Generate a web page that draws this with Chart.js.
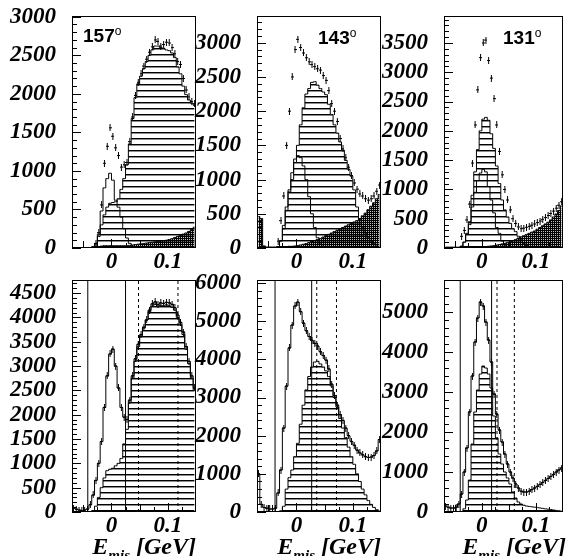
<!DOCTYPE html>
<html>
<head>
<meta charset="utf-8">
<script src="https://cdn.jsdelivr.net/npm/chart.js@4/dist/chart.umd.min.js"></script>
<style>
body { margin: 0; background: #fff; width: 568px; height: 556px; position: relative; overflow: hidden; }
canvas { position: absolute; }
.ang { position: absolute; font: bold 19px "Liberation Sans", Arial, sans-serif; line-height: 19px; color: #000; white-space: nowrap; }
.ang sup { font-weight: normal; font-size: 12px; vertical-align: 7px; }
.xt { position: absolute; font: italic bold 24px "Liberation Serif", "Times New Roman", serif; line-height: 24px; color: #000; white-space: nowrap; text-align: right; }
.xt sub { font-size: 15px; vertical-align: -6px; }
</style>
</head>
<body>
<script>
// Missing-energy bins (GeV), bin width 0.005
const binCenters = [-0.0675, -0.0625, -0.0575, -0.0525, -0.0475, -0.0425, -0.0375, -0.0325, -0.0275, -0.0225,
    -0.0175, -0.0125, -0.0075, -0.0025, 0.0025, 0.0075, 0.0125, 0.0175, 0.0225, 0.0275,
    0.0325, 0.0375, 0.0425, 0.0475, 0.0525, 0.0575, 0.0625, 0.0675, 0.0725, 0.0775,
    0.0825, 0.0875, 0.0925, 0.0975, 0.1025, 0.1075, 0.1125, 0.1175, 0.1225, 0.1275,
    0.1325, 0.1375, 0.1425, 0.1475];
const xTicks = [0, 0.1];
const angleLabels = ['157', '143', '131'];

// Top row, 157 deg
const top1Hatch = [0, 0, 0, 0, 0, 0, 0, 10, 40, 150, 300, 430, 530, 580, 590, 600, 640, 760, 900, 1080,
    1350, 1680, 1950, 2130, 2230, 2330, 2420, 2500, 2570, 2620, 2620, 2600, 2590, 2570, 2560, 2530, 2470, 2350, 2260, 2100,
    1990, 1920, 1880, 1850];
const top1Peak = [0, 0, 0, 0, 0, 0, 0, 20, 60, 180, 480, 780, 900, 970, 880, 620, 530, 400, 250, 130,
    60, 20, 0, 0, 0, 0, 0, 0, 0, 0, 0, 0, 0, 0, 0, 0, 0, 0, 0, 0, 0, 0, 0, 0];
const top1Data = [null, null, null, null, null, null, null, null, 60, 200, 560, 1100, 1320, 1560, 1450, 1300, 1200, 1050, 1080, 1110,
    1380, 1700, 1980, 2150, 2260, 2360, 2450, 2540, 2610, 2700, 2680, 2620, 2640, 2670, 2660, 2600, 2520, 2420, 2380, 2200,
    2050, 1960, 1900, 1870];
const top1Bg = [0, 0, 0, 0, 0, 0, 0, 0, 10, 20, 25, 30, 30, 30, 30, 30, 30, 30, 30, 30,
    35, 40, 45, 50, 55, 60, 65, 70, 75, 80, 85, 90, 95, 100, 110, 120, 135, 150, 165, 180,
    195, 215, 240, 270];
const top1YTicks = [0, 500, 1000, 1500, 2000, 2500, 3000];

// Top row, 143 deg
const top2Hatch = [0, 0, 0, 0, 0, 0, 0, 20, 110, 330, 600, 820, 1000, 1250, 1500, 1800, 2050, 2250, 2330, 2420,
    2430, 2380, 2330, 2280, 2240, 2100, 1950, 1800, 1680, 1550, 1430, 1280, 1150, 1050, 850, 600, 420, 300, 220, 150,
    100, 60, 30, 10];
const top2Peak = [0, 0, 0, 0, 0, 0, 0, 20, 100, 280, 550, 850, 1100, 1300, 1350, 1320, 1200, 1000, 750, 500,
    300, 150, 60, 20, 0, 0, 0, 0, 0, 0, 0, 0, 0, 0, 0, 0, 0, 0, 0, 0, 0, 0, 0, 0];
const top2Data = [null, null, null, null, null, null, null, 100, 400, 760, 1500, 2000, 2500, 2900, 3050, 2930, 2850, 2780, 2720, 2680,
    2650, 2620, 2600, 2520, 2450, 2300, 2110, 2000, 1850, 1600, 1450, 1320, 1180, 1060, 950, 860, 790, 760, 720, 700,
    720, 760, 830, 920];
const top2Bg = [460, 430, 30, 15, 15, 15, 15, 15, 20, 20, 20, 25, 25, 30, 35, 45, 55, 65, 80, 95,
    110, 125, 140, 160, 180, 200, 220, 240, 260, 280, 300, 320, 340, 360, 380, 400, 430, 470, 510, 560,
    610, 660, 720, 780];
const top2YTicks = [0, 500, 1000, 1500, 2000, 2500, 3000];

// Top row, 131 deg
const top3Hatch = [0, 0, 0, 0, 0, 0, 30, 100, 250, 450, 900, 1300, 1680, 2000, 2200, 2230, 2180, 1950, 1700, 1400,
    1100, 820, 650, 530, 420, 330, 280, 200, 140, 80, 40, 20, 0, 0, 0, 0, 0, 0, 0, 0, 0, 0, 0, 0];
const top3Peak = [0, 0, 0, 0, 0, 0, 30, 100, 230, 400, 700, 950, 1150, 1280, 1340, 1300, 1050, 820, 600, 350,
    250, 120, 50, 20, 0, 0, 0, 0, 0, 0, 0, 0, 0, 0, 0, 0, 0, 0, 0, 0, 0, 0, 0, 0];
const top3Data = [null, null, null, null, null, null, 200, 300, 480, 750, 1450, 2100, 2700, 3250, 3500, 3550, 3200, 2900, 2550, 2100,
    1650, 1250, 1000, 820, 650, 500, 420, 360, 330, 340, 355, 370, 390, 410, 435, 460, 490, 520, 555, 590,
    630, 680, 730, 790];
const top3Bg = [15, 15, 15, 15, 15, 15, 15, 15, 15, 15, 15, 15, 15, 20, 20, 25, 30, 35, 40, 50,
    60, 70, 80, 95, 110, 125, 145, 170, 190, 210, 230, 250, 270, 290, 320, 350, 380, 410, 440, 480,
    530, 580, 640, 720];
const top3YTicks = [0, 500, 1000, 1500, 2000, 2500, 3000, 3500];

// Bottom row, 157 deg
const bot1Data = [80, 60, 40, 30, 40, 60, 150, 350, 650, 1000, 1450, 2150, 2800, 3250, 3350, 3000, 2550, 2150, 1950, 1900,
    2300, 2800, 3150, 3450, 3650, 3800, 3950, 4150, 4280, 4320, 4260, 4300, 4290, 4310, 4300, 4270, 4200, 4050, 3900, 3700,
    3400, 3100, 2800, 2550];
const bot1Hatch = [0, 0, 0, 0, 0, 0, 0, 30, 120, 300, 500, 700, 850, 880, 900, 950, 1000, 1100, 1400, 1700,
    2250, 2750, 3100, 3400, 3620, 3780, 3950, 4120, 4230, 4270, 4220, 4250, 4240, 4260, 4240, 4210, 4150, 4000, 3850, 3650,
    3350, 3050, 2750, 2500];
const bot1Solid = [-0.042, 0.025];
const bot1Dashed = [0.048, 0.118];
const bot1YTicks = [0, 500, 1000, 1500, 2000, 2500, 3000, 3500, 4000, 4500];

// Bottom row, 143 deg
const bot2Data = [1000, 200, 120, 100, 80, 80, 100, 500, 1100, 2200, 3300, 4300, 4900, 5400, 5500, 5250, 4950, 4750, 4600, 4500,
    4420, 4350, 4200, 4100, 3980, 3750, 3350, 3050, 2800, 2550, 2400, 2200, 2000, 1850, 1750, 1620, 1550, 1500, 1450, 1430,
    1440, 1480, 1600, 1900];
const bot2Hatch = [0, 0, 0, 0, 0, 0, 0, 0, 30, 150, 600, 900, 1100, 1450, 1800, 2300, 2800, 3200, 3550, 3800,
    3930, 3950, 3880, 3800, 3700, 3550, 3300, 3000, 2750, 2450, 2200, 1950, 1700, 1450, 1250, 1000, 800, 600, 450, 300,
    200, 120, 60, 30];
const bot2Solid = [-0.038, 0.027];
const bot2Dashed = [0.036, 0.071];
const bot2YTicks = [0, 1000, 2000, 3000, 4000, 5000, 6000];

// Bottom row, 131 deg
const bot3Data = [150, 120, 100, 100, 120, 200, 450, 1000, 1600, 2500, 3400, 4250, 4850, 5250, 5150, 4750, 4300, 3750, 2950, 2450,
    2050, 1750, 1450, 1200, 1000, 850, 700, 600, 520, 500, 500, 520, 560, 600, 640, 690, 740, 790, 840, 890,
    940, 1000, 1050, 1100];
const bot3Hatch = [0, 0, 0, 0, 0, 0, 0, 80, 300, 800, 1700, 2500, 3050, 3450, 3650, 3600, 3450, 3100, 2400, 1850,
    1450, 1200, 1000, 850, 700, 500, 350, 250, 200, 170, 150, 140, 130, 120, 110, 100, 90, 80, 70, 60,
    50, 40, 30, 20];
const bot3Solid = [-0.04, 0.018];
const bot3Dashed = [0.028, 0.06];
const bot3YTicks = [0, 1000, 2000, 3000, 4000, 5000];

// Fill patterns
function makeHatch(ctx) {
    const c = document.createElement('canvas');
    c.width = 4; c.height = 6;
    const g = c.getContext('2d');
    g.fillStyle = '#000';
    g.fillRect(0, 0, 4, 1);
    g.fillStyle = 'rgba(0,0,0,0.45)';
    g.fillRect(0, 1, 4, 1);
    return ctx.createPattern(c, 'repeat');
}

function makeCross(ctx) {
    const c = document.createElement('canvas');
    c.width = 2; c.height = 2;
    const g = c.getContext('2d');
    g.fillStyle = '#000';
    g.fillRect(0, 0, 2, 1);
    g.fillRect(0, 0, 1, 2);
    g.fillStyle = 'rgba(0,0,0,0.25)';
    g.fillRect(1, 1, 1, 1);
    return ctx.createPattern(c, 'repeat');
}

// Data point marker: small cross with a longer vertical error bar
const marker = document.createElement('canvas');
marker.width = 3; marker.height = 7;
(function () {
    const g = marker.getContext('2d');
    g.fillStyle = '#000';
    g.fillRect(1, 0, 1, 7);
    g.fillRect(0, 3, 3, 1);
})();

// Frame and inward ROOT-style ticks
const frameTicks = {
    id: 'frameTicks',
    afterDatasetsDraw(chart, args, opts) {
        const { ctx, chartArea: a, scales: { x, y } } = chart;
        ctx.save();
        ctx.strokeStyle = '#000';
        ctx.lineWidth = 1;
        ctx.beginPath();
        for (let v = 0; v <= y.max; v += opts.yMinor) {
            const py = Math.round(y.getPixelForValue(v)) + 0.5;
            const len = v % opts.yMajor === 0 ? 9 : 5;
            ctx.moveTo(a.left, py);
            ctx.lineTo(a.left + len, py);
        }
        for (let k = -2; k <= 6; k++) {
            const px = Math.round(x.getPixelForValue(k * 0.025)) + 0.5;
            if (px < a.left || px > a.right) continue;
            const len = k % 4 === 0 ? 9 : (k % 2 === 0 ? 7 : 5);
            ctx.moveTo(px, a.bottom);
            ctx.lineTo(px, a.bottom - len);
        }
        ctx.stroke();
        ctx.strokeRect(a.left + 0.5, a.top + 0.5, a.right - a.left - 1, a.bottom - a.top - 1);
        ctx.restore();
    }
};

function toXY(arr) {
    return binCenters.map((x, i) => ({ x: x, y: arr[i] }));
}

function histo(arr, fillStyle, order) {
    return {
        data: toXY(arr),
        stepped: 'middle',
        borderColor: '#000',
        borderWidth: 1,
        pointRadius: 0,
        fill: fillStyle ? 'origin' : false,
        backgroundColor: fillStyle || 'transparent',
        order: order
    };
}

function points(arr, order) {
    return {
        data: toXY(arr),
        showLine: false,
        pointStyle: marker,
        pointRadius: 2,
        order: order
    };
}

function cutLine(xv, ymax, dashed) {
    return {
        data: [{ x: xv, y: 0 }, { x: xv, y: ymax }],
        borderColor: '#000',
        borderWidth: 1,
        borderDash: dashed ? [3, 3] : [],
        pointRadius: 0,
        fill: false,
        order: 0
    };
}

const tickFont = { family: '"Liberation Serif", "Times New Roman", serif', size: 23, style: 'italic', weight: 'bold', lineHeight: 1 };

function makePanel(p) {
    const cv = document.createElement('canvas');
    const w = 72 + p.frameW + p.padRight;
    cv.width = w;
    cv.height = p.canvasH;
    cv.style.left = (p.frameLeft - 72) + 'px';
    cv.style.top = p.canvasTop + 'px';
    document.body.appendChild(cv);
    const ctx = cv.getContext('2d');
    const hatch = makeHatch(ctx);
    const cross = makeCross(ctx);

    const datasets = [];
    datasets.push(histo(p.hatch, hatch, 5));
    if (p.bg) datasets.push(histo(p.bg, cross, 4));
    if (p.peak) datasets.push(histo(p.peak, null, 3));
    if (p.outline) datasets.push(histo(p.outline, null, 2));
    datasets.push(points(p.data, 1));
    (p.solid || []).forEach(v => datasets.push(cutLine(v, p.ymax, false)));
    (p.dashed || []).forEach(v => datasets.push(cutLine(v, p.ymax, true)));

    new Chart(ctx, {
        type: 'line',
        data: { datasets: datasets },
        options: {
            responsive: false,
            animation: false,
            events: [],
            layout: { padding: { left: 0, top: 16, right: p.padRight, bottom: 0 } },
            plugins: {
                legend: { display: false },
                tooltip: { enabled: false },
                frameTicks: { yMinor: p.yMinor, yMajor: p.yMajor }
            },
            scales: {
                x: {
                    type: 'linear',
                    min: -0.07,
                    max: 0.15,
                    grid: { display: false },
                    border: { display: false },
                    afterBuildTicks: s => { s.ticks = xTicks.map(v => ({ value: v })); },
                    afterFit: s => { s.height = p.canvasH - 16 - 232; s.paddingLeft = 0; s.paddingRight = 0; },
                    ticks: { font: tickFont, color: '#000', padding: -5, maxRotation: 0, autoSkip: false, callback: v => String(v) }
                },
                y: {
                    min: 0,
                    max: p.ymax,
                    grid: { display: false },
                    border: { display: false },
                    afterBuildTicks: s => { s.ticks = p.yTicks.map(v => ({ value: v })); },
                    afterFit: s => { s.width = 72; s.paddingTop = 0; s.paddingBottom = 0; },
                    ticks: { font: tickFont, color: '#000', padding: 8, autoSkip: false, callback: v => String(v) }
                }
            }
        },
        plugins: [frameTicks]
    });
}

const frameLefts = [72, 257, 444];
const frameWidths = [125, 125, 123];
const padRights = [4, 4, 1];

const topPanels = [
    { hatch: top1Hatch, peak: top1Peak, data: top1Data, bg: top1Bg, ymax: 3010, yTicks: top1YTicks, yMinor: 100, yMajor: 500 },
    { hatch: top2Hatch, peak: top2Peak, data: top2Data, bg: top2Bg, ymax: 3390, yTicks: top2YTicks, yMinor: 100, yMajor: 500 },
    { hatch: top3Hatch, peak: top3Peak, data: top3Data, bg: top3Bg, ymax: 3960, yTicks: top3YTicks, yMinor: 100, yMajor: 500 }
];
const botPanels = [
    { hatch: bot1Hatch, outline: bot1Data, data: bot1Data, solid: bot1Solid, dashed: bot1Dashed, ymax: 4770, yTicks: bot1YTicks, yMinor: 100, yMajor: 500 },
    { hatch: bot2Hatch, outline: bot2Data, data: bot2Data, solid: bot2Solid, dashed: bot2Dashed, ymax: 6080, yTicks: bot2YTicks, yMinor: 200, yMajor: 1000 },
    { hatch: bot3Hatch, outline: bot3Data, data: bot3Data, solid: bot3Solid, dashed: bot3Dashed, ymax: 5800, yTicks: bot3YTicks, yMinor: 200, yMajor: 1000 }
];

topPanels.forEach((p, i) => {
    makePanel(Object.assign({ frameLeft: frameLefts[i], frameW: frameWidths[i], padRight: padRights[i], canvasTop: 0, canvasH: 280 }, p));
});
botPanels.forEach((p, i) => {
    makePanel(Object.assign({ frameLeft: frameLefts[i], frameW: frameWidths[i], padRight: padRights[i], canvasTop: 264, canvasH: 292 }, p));
});

// Angle labels in the top row
const angPos = [[83, 22], [318, 24], [503, 24]];
angleLabels.forEach((t, i) => {
    const d = document.createElement('div');
    d.className = 'ang';
    d.style.left = angPos[i][0] + 'px';
    d.style.top = angPos[i][1] + 'px';
    d.innerHTML = t + '<sup>o</sup>';
    document.body.appendChild(d);
});

// Axis titles under the bottom row
frameLefts.forEach((l, i) => {
    const d = document.createElement('div');
    d.className = 'xt';
    d.style.left = (l - 20) + 'px';
    d.style.width = (frameWidths[i] + 19) + 'px';
    d.style.top = '534px';
    d.innerHTML = 'E<sub>mis</sub> [GeV]';
    document.body.appendChild(d);
});
</script>
</body>
</html>
